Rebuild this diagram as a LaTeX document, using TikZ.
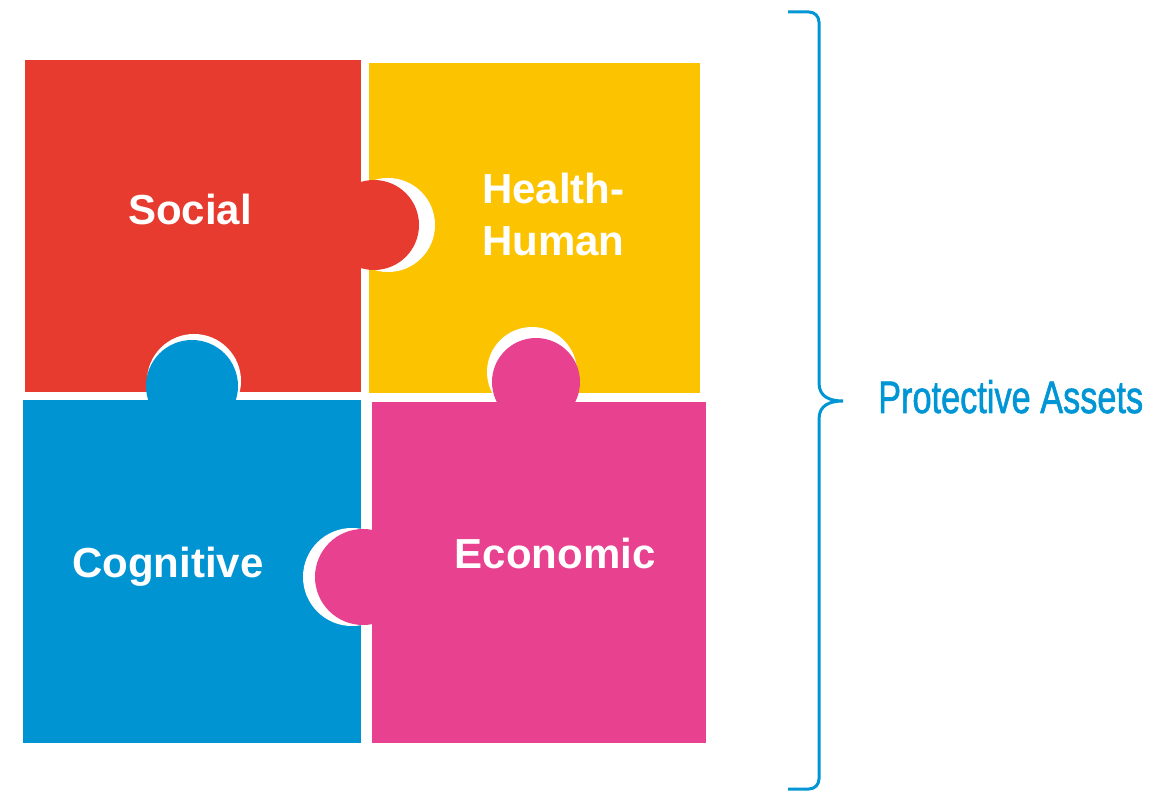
\documentclass[tikz,border=0pt]{standalone}
\usepackage{fontspec}
\setmainfont{Liberation Sans}
\newfontfamily\assetfont{Liberation Sans}[FakeBold=1.5]
\usepackage{graphicx}
\definecolor{socialred}{RGB}{230,59,46}
\definecolor{healthyellow}{RGB}{252,196,0}
\definecolor{cognitiveblue}{RGB}{0,148,211}
\definecolor{economicpink}{RGB}{232,65,143}
\definecolor{assetblue}{RGB}{0,150,214}
\tikzset{
  piecelabel/.style={text=white, font=\fontsize{42}{52}\selectfont\bfseries, inner sep=0pt},
  socket/.style={fill=white}
}
\begin{document}
\begin{tikzpicture}[x=1pt, y=-1pt]
	\useasboundingbox (0,0) rectangle (1151,791);
	% Health-Human piece and its two sockets
	\fill[healthyellow] (369,63) rectangle (700,393);
	\begin{scope}
		\clip (369,63) rectangle (700,393);
		\fill[socket] (388,225) circle[radius=47];
		\fill[socket] (532,372) circle[radius=45];
	\end{scope}
	% Social piece, socket below, knob to the right
	\fill[socialred] (25,60) rectangle (361,392);
	\begin{scope}
		\clip (25,60) rectangle (361,392);
		\fill[socket] (194,381) circle[radius=47];
	\end{scope}
	\fill[socialred] (374,225) circle[radius=45];
	% Cognitive piece, socket right, knob up
	\fill[cognitiveblue] (23,400) rectangle (361,743);
	\begin{scope}
		\clip (23,400) rectangle (361,743);
		\fill[socket] (352,577) circle[radius=49];
	\end{scope}
	\fill[cognitiveblue] (192,386) circle[radius=46];
	% Economic piece, knobs up and left
	\fill[economicpink] (372,402) rectangle (706,743);
	\fill[economicpink] (536,382) circle[radius=44];
	\fill[economicpink] (363,577) circle[radius=48];
	% labels
	\node[piecelabel, anchor=base] (social) at (190,225) {Social};
	\node[piecelabel, anchor=north west, align=left] (health) at (482,173) {Health-\\Human};
	\node[piecelabel, anchor=base] (cognitive) at (168,577) {Cognitive};
	\node[piecelabel, anchor=base] (economic) at (555,568) {Economic};
	% brace
	\draw[assetblue, line width=3pt] (788,12) -- (809,12) arc[start angle=-90, end angle=0, radius=10]
		-- (819,383) .. controls (819,397) and (830,401) .. (843,401)
		.. controls (830,401) and (819,405) .. (819,419)
		-- (819,779) arc[start angle=0, end angle=90, radius=10] -- (788,789);
	\node[text=assetblue, anchor=base west, inner sep=0pt] (assets) at (878,413) {\resizebox{265pt}{33pt}{\assetfont Protective Assets}};
\end{tikzpicture}
\end{document}
